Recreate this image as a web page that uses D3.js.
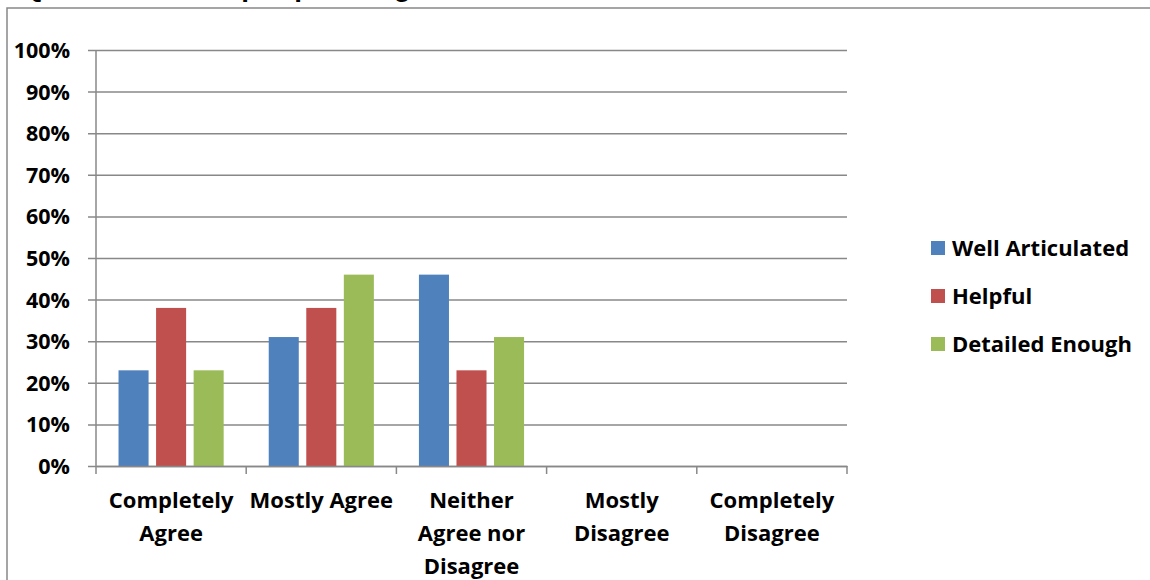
<!DOCTYPE html>
<html>
<head>
<meta charset="utf-8">
<script src="https://cdn.jsdelivr.net/npm/d3@7"></script>
<style>
  html, body { margin: 0; padding: 0; background: #fff; }
  svg { display: block; }
  text { font-family: "Open Sans", sans-serif; font-weight: bold; fill: #000; }
</style>
</head>
<body>
<svg id="chart" width="1150" height="580"></svg>
<script>
// ---- data ----
const title = "Question 4: The pre-planning task was:";
const categories = [
  ["Completely", "Agree"],
  ["Mostly Agree"],
  ["Neither", "Agree nor", "Disagree"],
  ["Mostly", "Disagree"],
  ["Completely", "Disagree"]
];
const categoryKeys = ["Completely Agree", "Mostly Agree", "Neither Agree nor Disagree", "Mostly Disagree", "Completely Disagree"];
const seriesNames = ["Well Articulated", "Helpful", "Detailed Enough"];
const seriesColors = ["#4f81bd", "#c0504d", "#9bbb59"];
const wellArticulated = [23, 31, 46, 0, 0];
const helpful = [38, 38, 23, 0, 0];
const detailedEnough = [23, 46, 31, 0, 0];
const seriesValues = [wellArticulated, helpful, detailedEnough];
const yTicks = [0, 10, 20, 30, 40, 50, 60, 70, 80, 90, 100];

// ---- layout ----
const svg = d3.select("#chart");
const plot = { left: 96, right: 847, top: 50, bottom: 466 };
const gridColor = "#888888";

// outer chart border (clipped at top/right like the reference)
svg.append("path")
  .attr("d", "M7,580 V8 H1150")
  .attr("fill", "none")
  .attr("stroke", gridColor)
  .attr("stroke-width", 1.5);

// clipped title
svg.append("text")
  .attr("x", 22).attr("y", -4)
  .style("font-family", "'Liberation Sans', Arial, sans-serif")
  .style("font-size", "28px")
  .text(title);

const x = d3.scaleBand().domain(categoryKeys).range([plot.left, plot.right]).padding(0);
const inner = d3.scaleBand().domain(seriesNames)
  .range([x.bandwidth() * 0.15, x.bandwidth() * 0.85])
  .paddingInner(0.2).paddingOuter(0);
const y = d3.scaleLinear().domain([0, 100]).range([plot.bottom, plot.top]);

// gridlines + y ticks
const yAxis = d3.axisLeft(y).tickValues(yTicks).tickFormat(d => d + "%")
  .tickSize(-(plot.right - plot.left)).tickPadding(26);
const gy = svg.append("g").attr("transform", `translate(${plot.left},0)`).call(yAxis);
gy.select(".domain").remove();
gy.selectAll(".tick line")
  .attr("x1", -8)
  .attr("stroke", gridColor).attr("stroke-width", 1.5);
gy.selectAll(".tick text")
  .style("font-size", "21.5px")
  .style("font-family", "'Open Sans', sans-serif")
  .style("font-weight", "bold")
  .attr("dy", "0.35em");

// bars
const groups = svg.append("g").selectAll("g")
  .data(categoryKeys)
  .join("g")
  .attr("transform", d => `translate(${x(d)},0)`);
groups.selectAll("rect")
  .data((d, i) => seriesNames.map((s, j) => ({ s, j, v: seriesValues[j][i] })))
  .join("rect")
  .attr("x", d => inner(d.s))
  .attr("width", inner.bandwidth())
  .attr("y", d => y(d.v))
  .attr("height", d => y(0) - y(d.v))
  .attr("fill", d => seriesColors[d.j]);

// y axis line
svg.append("line")
  .attr("x1", plot.left).attr("x2", plot.left)
  .attr("y1", plot.top).attr("y2", plot.bottom)
  .attr("stroke", gridColor).attr("stroke-width", 1.5);

// x axis
const xAxis = d3.axisBottom(x).tickSize(0).tickFormat("");
const gx = svg.append("g").attr("transform", `translate(0,${plot.bottom})`).call(xAxis);
gx.select(".domain").attr("stroke", gridColor).attr("stroke-width", 1.5);
const boundaries = categoryKeys.map(k => x(k)).concat([plot.right]);
svg.append("g").selectAll("line")
  .data(boundaries)
  .join("line")
  .attr("x1", d => d).attr("x2", d => d)
  .attr("y1", plot.bottom).attr("y2", plot.bottom + 8)
  .attr("stroke", gridColor).attr("stroke-width", 1.5);

// category labels
const labels = svg.append("g").selectAll("text")
  .data(categories)
  .join("text")
  .attr("x", (d, i) => x(categoryKeys[i]) + x.bandwidth() / 2)
  .attr("y", 508)
  .attr("text-anchor", "middle")
  .style("font-size", "22px");
labels.selectAll("tspan")
  .data(d => d)
  .join("tspan")
  .attr("x", function () { return this.parentNode.getAttribute("x"); })
  .attr("dy", (d, i) => i === 0 ? 0 : 33)
  .text(d => d);

// legend
const legend = svg.append("g").selectAll("g")
  .data(seriesNames)
  .join("g")
  .attr("transform", (d, i) => `translate(931,${248 + i * 48})`);
legend.append("rect")
  .attr("x", 0).attr("y", -7).attr("width", 14).attr("height", 14)
  .attr("fill", (d, i) => seriesColors[i]);
legend.append("text")
  .attr("x", 21).attr("y", 0).attr("dy", "0.35em")
  .style("font-size", "22px")
  .text(d => d);
</script>
</body>
</html>
